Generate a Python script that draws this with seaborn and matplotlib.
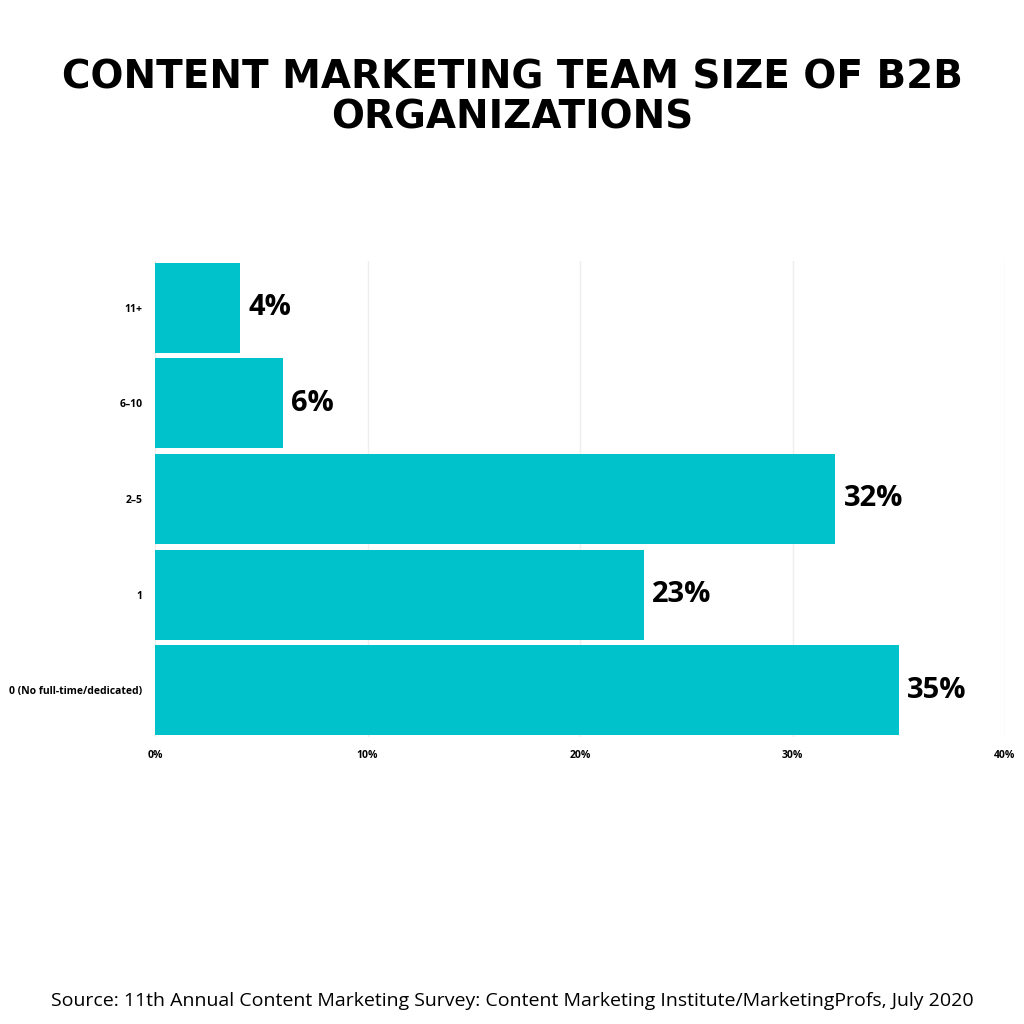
import matplotlib
matplotlib.use("Agg")
import matplotlib.pyplot as plt
import seaborn as sns
import pandas as pd

categories = ["11+", "6\u201310", "2\u20135", "1", "0 (No full-time/dedicated)"]
values = [4, 6, 32, 23, 35]
xticks = [0, 10, 20, 30, 40]
xticklabels = ["0%", "10%", "20%", "30%", "40%"]

df = pd.DataFrame({"cat": categories, "val": values})

fig = plt.figure(figsize=(10.24, 10.24), dpi=100)
ax = fig.add_axes([155/1024, 1-737/1024, 850/1024, 476/1024])
sns.barplot(data=df, y="cat", x="val", order=categories, color="#00C2CB",
            width=0.94, saturation=1, ax=ax, zorder=3)
ax.set_xlim(0, 40)
ax.set_ylim(4.49, -0.49)
ax.set_xticks(xticks)
ax.set_xticklabels(xticklabels, fontsize=7.5, fontweight="bold", family="Open Sans")
for t in ax.get_yticklabels():
    t.set_fontsize(7.5); t.set_fontweight("bold"); t.set_family("Open Sans")
ax.tick_params(length=0, pad=9)
ax.set_xlabel(""); ax.set_ylabel("")
for s in ax.spines.values():
    s.set_visible(False)
ax.grid(axis="x", color="#eeeeee", lw=1, zorder=0)
ax.set_axisbelow(True)
for i, v in enumerate(values):
    ax.text(v + 0.4, i, f"{v}%", fontsize=21, fontweight="bold",
            family="Open Sans", va="center", ha="left")

fig.text(0.5, 0.905, "CONTENT MARKETING TEAM SIZE OF B2B\nORGANIZATIONS",
         ha="center", va="center", fontsize=28, fontweight="heavy",
         family="DejaVu Sans", linespacing=1.05)
fig.text(0.5, 0.022, "Source: 11th Annual Content Marketing Survey: Content Marketing Institute/MarketingProfs, July 2020",
         ha="center", va="center", fontsize=14, family="Open Sans")
fig.savefig("out.png", dpi=100, facecolor="white")
